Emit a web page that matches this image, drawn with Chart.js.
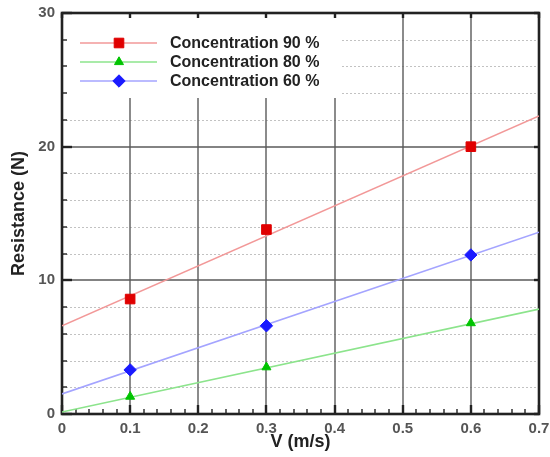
<!DOCTYPE html>
<html>
<head>
<meta charset="utf-8">
<script src="https://cdn.jsdelivr.net/npm/chart.js@4.4.1/dist/chart.umd.min.js"></script>
<style>
  html, body { margin: 0; padding: 0; background: #fff; }
  #wrap { width: 550px; height: 457px; }
</style>
</head>
<body>
<div id="wrap"><canvas id="chart"></canvas></div>
<script>
// measured points
const speeds = [0.1, 0.3, 0.6];
const res90 = [8.6, 13.8, 20.0];
const res80 = [1.3, 3.5, 6.8];
const res60 = [3.3, 6.6, 11.9];

const fitX = [0, 0.7];
const fit90 = [6.6, 22.3];
const fit80 = [0.15, 7.85];
const fit60 = [1.5, 13.6];

const seriesLabels = ["Concentration 90 %", "Concentration 80 %", "Concentration 60 %"];
const xTicks = [0, 0.1, 0.2, 0.3, 0.4, 0.5, 0.6, 0.7];
const yTicks = [0, 10, 20, 30];

const markerColors = ["#e00000", "#00c400", "#1a1aff"];
const lineColors = ["#f29898", "#8ce48c", "#a4a4ff"];
const pointStyles = ["rect", "triangle", "rectRot"];
const pointRadii = [6.8, 5.2, 6.2];

const FONT = "'Liberation Sans', Arial, sans-serif";

function pairs(xs, ys) {
  return xs.map((v, i) => ({ x: v, y: ys[i] }));
}

const measured = [res90, res80, res60];
const fits = [fit90, fit80, fit60];

const datasets = [];
measured.forEach((vals, i) => {
  datasets.push({
    label: seriesLabels[i],
    data: pairs(speeds, vals),
    showLine: false,
    pointStyle: pointStyles[i],
    pointRadius: pointRadii[i],
    backgroundColor: markerColors[i],
    borderColor: markerColors[i],
    borderWidth: 1,
    order: 0
  });
});
fits.forEach((vals, i) => {
  datasets.push({
    label: seriesLabels[i] + " fit",
    data: pairs(fitX, vals),
    showLine: true,
    pointRadius: 0,
    borderColor: lineColors[i],
    borderWidth: 1.6,
    order: 1
  });
});

function seg(ctx, x1, y1, x2, y2) {
  ctx.beginPath();
  ctx.moveTo(x1, y1);
  ctx.lineTo(x2, y2);
  ctx.stroke();
}

// Tecplot style frame: grid, legend box, inward ticks, border
const frame = {
  id: "frame",
  beforeDatasetsDraw(chart) {
    const { ctx, chartArea: a, scales: { x, y } } = chart;
    ctx.save();

    // minor dotted horizontals
    ctx.strokeStyle = "#c2c2c2";
    ctx.lineWidth = 1;
    ctx.setLineDash([2, 2]);
    for (let v = 2; v < 30; v += 2) {
      if (v % 10 === 0) continue;
      const py = Math.round(y.getPixelForValue(v)) + 0.5;
      seg(ctx, a.left, py, a.right, py);
    }
    ctx.setLineDash([]);

    // major solid lines
    ctx.strokeStyle = "#5a5a5a";
    ctx.lineWidth = 1.4;
    xTicks.slice(1, -1).forEach(v => {
      const px = Math.round(x.getPixelForValue(v));
      seg(ctx, px, a.top, px, a.bottom);
    });
    yTicks.slice(1, -1).forEach(v => {
      const py = Math.round(y.getPixelForValue(v));
      seg(ctx, a.left, py, a.right, py);
    });

    // legend
    ctx.fillStyle = "#fff";
    ctx.fillRect(a.left, a.top, 278, 85);
    ctx.font = "bold 16px " + FONT;
    ctx.textBaseline = "middle";
    seriesLabels.forEach((lab, i) => {
      const ly = a.top + 30 + i * 19;
      ctx.strokeStyle = lineColors[i];
      ctx.lineWidth = 1.6;
      seg(ctx, a.left + 18, ly, a.left + 95, ly);
      ctx.fillStyle = markerColors[i];
      ctx.strokeStyle = markerColors[i];
      ctx.lineWidth = 1;
      Chart.helpers.drawPoint(ctx, { pointStyle: pointStyles[i], radius: pointRadii[i], borderWidth: 1 }, a.left + 57, ly);
      ctx.fillStyle = "#222";
      ctx.fillText(lab, a.left + 108, ly + 1);
    });

    // inward ticks
    ctx.strokeStyle = "#222";
    for (let k = 0; k <= 35; k++) {
      const px = Math.round(x.getPixelForValue(k * 0.02));
      const major = k % 5 === 0;
      ctx.lineWidth = major ? 2.4 : 1.4;
      const len = major ? 9 : 5;
      seg(ctx, px, a.bottom, px, a.bottom - len);
      if (major) seg(ctx, px, a.top, px, a.top + 5);
    }
    for (let v = 0; v <= 30; v += 2) {
      const py = Math.round(y.getPixelForValue(v));
      const major = v % 10 === 0;
      ctx.lineWidth = major ? 2.4 : 1.4;
      const len = major ? 10 : 5;
      seg(ctx, a.left, py, a.left + len, py);
      if (major) seg(ctx, a.right, py, a.right - 5, py);
    }

    // border
    ctx.lineWidth = 2.6;
    ctx.strokeStyle = "#222";
    ctx.strokeRect(a.left, a.top, a.right - a.left, a.bottom - a.top);
    ctx.restore();
  }
};

new Chart(document.getElementById("chart").getContext("2d"), {
  type: "scatter",
  data: { datasets: datasets },
  options: {
    responsive: true,
    maintainAspectRatio: false,
    animation: false,
    layout: { padding: { top: 13, right: 11, left: 0, bottom: 0 } },
    plugins: {
      legend: { display: false },
      tooltip: { enabled: false }
    },
    scales: {
      x: {
        type: "linear",
        min: 0,
        max: 0.7,
        afterBuildTicks: s => { s.ticks = xTicks.map(v => ({ value: v })); },
        afterFit: s => { s.height = 43; s.paddingLeft = 0; s.paddingRight = 0; },
        grid: { display: false, drawTicks: false },
        border: { display: false },
        ticks: {
          padding: 6,
          color: "#555",
          font: { family: FONT, size: 15, weight: "bold" },
          callback: v => String(Number(v.toFixed(1)))
        },
        title: {
          display: true,
          text: "V (m/s)",
          color: "#222",
          font: { family: FONT, size: 18, weight: "bold" },
          padding: { top: 0, bottom: 4 }
        }
      },
      y: {
        type: "linear",
        min: 0,
        max: 30,
        afterBuildTicks: s => { s.ticks = yTicks.map(v => ({ value: v })); },
        afterFit: s => { s.width = 62; s.paddingTop = 0; s.paddingBottom = 0; },
        grid: { display: false, drawTicks: false },
        border: { display: false },
        ticks: {
          padding: 7,
          color: "#555",
          font: { family: FONT, size: 15, weight: "bold" }
        },
        title: {
          display: true,
          text: "Resistance (N)",
          color: "#222",
          font: { family: FONT, size: 18, weight: "bold" },
          padding: { top: 8, bottom: 0 }
        }
      }
    }
  },
  plugins: [frame]
});
</script>
</body>
</html>
